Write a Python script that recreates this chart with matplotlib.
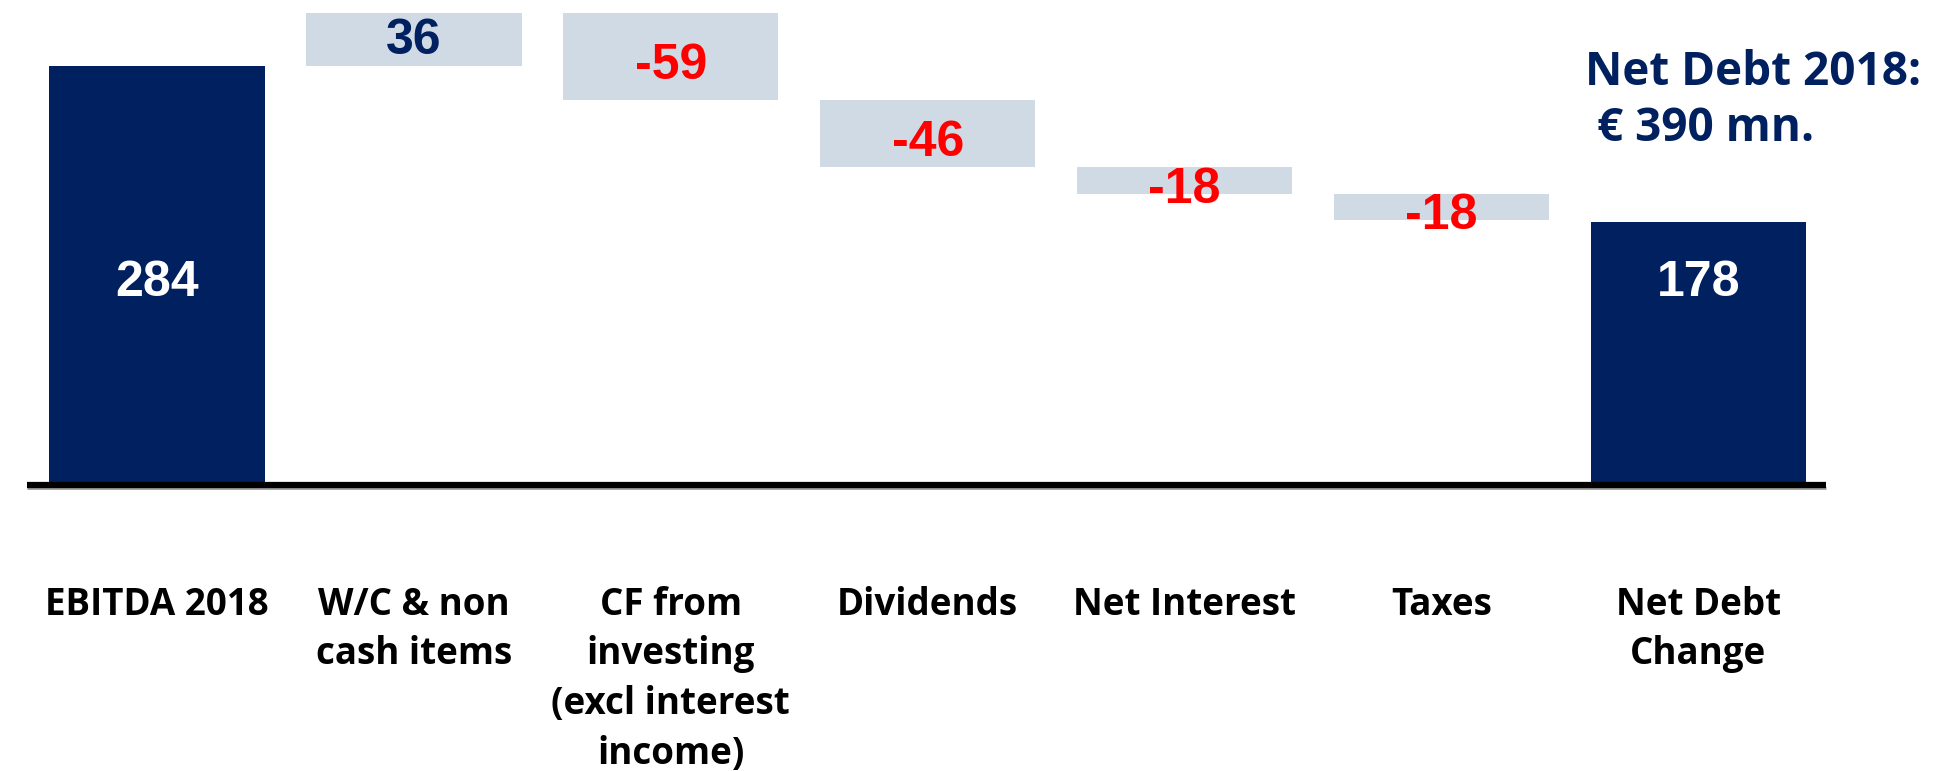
import matplotlib
matplotlib.use('Agg')
import matplotlib.pyplot as plt

# chart data
categories = ['EBITDA 2018', 'W/C & non\ncash items', 'CF from\ninvesting\n(excl interest\nincome)',
              'Dividends', 'Net Interest', 'Taxes', 'Net Debt\nChange']
values = [284, 36, -59, -46, -18, -18, 178]
is_total = [True, False, False, False, False, False, True]
note_line1 = 'Net Debt 2018:'
note_line2 = '€ 390 mn.'

navy = '#002060'
light = '#d0dae5'
red = '#ff0000'

fig = plt.figure(figsize=(19.41, 7.71), dpi=100)
ax = fig.add_axes([0, 0, 1, 1])
ax.set_xlim(-0.611, 6.944)
ax.set_ylim(-196, 328.8)
ax.axis('off')

total_label_y = values[0] / 2 - 6   # both totals labelled at the same height
running = 0
for i, (cat, v, tot) in enumerate(zip(categories, values, is_total)):
    if tot:
        running = v
        ax.bar(i, v, bottom=0, width=0.838, color=navy)
        ax.text(i, total_label_y, str(v), ha='center', va='center', color='white',
                fontsize=36, fontweight='bold', family='Liberation Sans')
    else:
        bottom = min(running, running + v)
        height = abs(v)
        running += v
        ax.bar(i, height, bottom=bottom, width=0.838, color=light)
        col = navy if v > 0 else red
        shift = -1 if v > 0 else -6.5
        ax.text(i, bottom + height / 2 + shift, str(v), ha='center', va='center', color=col,
                fontsize=36, fontweight='bold', family='Liberation Sans')
    # category label
    ax.text(i, -70, cat, ha='center', va='top', fontsize=26.5, fontweight='bold',
            family='Open Sans', color='black', linespacing=1.4)

# base line
ax.plot([-0.506, 6.496], [-3.5, -3.5], color='#9a9a9a', lw=2, solid_capstyle='butt')
ax.plot([-0.506, 6.496], [-1.5, -1.5], color='black', lw=4.5, solid_capstyle='butt')

# note top right
ax.text(5.56, 279.5, note_line1, ha='left', va='center', fontsize=33, fontweight='bold',
        family='Open Sans', color=navy)
ax.text(5.605, 241.4, note_line2, ha='left', va='center', fontsize=33, fontweight='bold',
        family='Open Sans', color=navy)

fig.savefig('out.png', dpi=100)
